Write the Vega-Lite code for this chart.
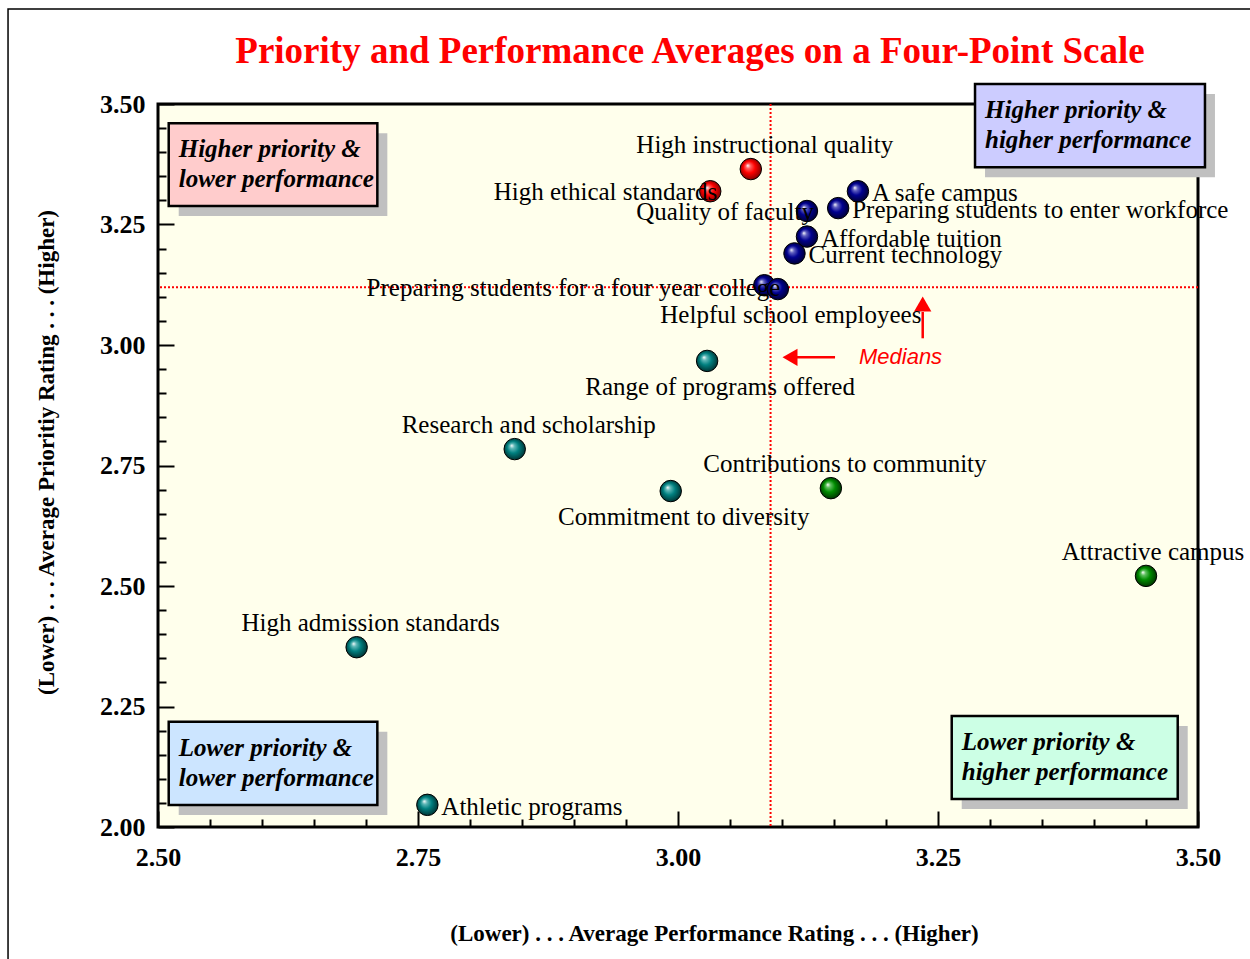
{
  "$schema": "https://vega.github.io/schema/vega-lite/v6.json",
  "width": 1040,
  "height": 723,
  "autosize": {"type": "none"},
  "padding": {"left": 158, "top": 104, "right": 52, "bottom": 132},
  "background": "white",
  "title": {
    "text": "Priority and Performance Averages on a Four-Point Scale",
    "font": "Liberation Serif",
    "fontSize": 37,
    "fontWeight": "bold",
    "color": "#FF0000",
    "anchor": "middle",
    "frame": "group",
    "baseline": "alphabetic",
    "offset": -92,
    "dx": 12
  },
  "config": {
    "view": {"fill": "#FFFFEC", "stroke": "black", "strokeWidth": 3},
    "font": "Liberation Serif"
  },
  "datasets": {
    "items": [
      {"item": "High instructional quality", "performance": 3.070, "priority": 3.365, "cluster": "A"},
      {"item": "High ethical standards", "performance": 3.031, "priority": 3.319, "cluster": "A"},
      {"item": "Quality of faculty", "performance": 3.124, "priority": 3.278, "cluster": "B"},
      {"item": "A safe campus", "performance": 3.173, "priority": 3.319, "cluster": "B"},
      {"item": "Preparing students to enter workforce", "performance": 3.154, "priority": 3.284, "cluster": "B"},
      {"item": "Affordable tuition", "performance": 3.124, "priority": 3.225, "cluster": "B"},
      {"item": "Current technology", "performance": 3.112, "priority": 3.190, "cluster": "B"},
      {"item": "Preparing students for a four year college", "performance": 3.083, "priority": 3.124, "cluster": "B"},
      {"item": "Helpful school employees", "performance": 3.096, "priority": 3.116, "cluster": "B"},
      {"item": "Range of programs offered", "performance": 3.028, "priority": 2.967, "cluster": "C"},
      {"item": "Research and scholarship", "performance": 2.843, "priority": 2.784, "cluster": "C"},
      {"item": "Commitment to diversity", "performance": 2.993, "priority": 2.697, "cluster": "C"},
      {"item": "Contributions to community", "performance": 3.147, "priority": 2.703, "cluster": "D"},
      {"item": "Attractive campus", "performance": 3.450, "priority": 2.521, "cluster": "D"},
      {"item": "High admission standards", "performance": 2.691, "priority": 2.373, "cluster": "C"},
      {"item": "Athletic programs", "performance": 2.759, "priority": 2.046, "cluster": "C"}
    ],
    "medians": [{"performance": 3.089, "priority": 3.120}],
    "quadrants": [
      {"quadrant": "HL", "label": "Higher priority &\nlower performance", "x1": 2.5103, "x2": 2.7109, "y1": 3.460, "y2": 3.2884},
      {"quadrant": "HH", "label": "Higher priority &\nhigher performance", "x1": 3.2856, "x2": 3.5067, "y1": 3.5415, "y2": 3.3687},
      {"quadrant": "LL", "label": "Lower priority &\nlower performance", "x1": 2.5103, "x2": 2.7109, "y1": 2.2185, "y2": 2.0456},
      {"quadrant": "LH", "label": "Lower priority &\nhigher performance", "x1": 3.2632, "x2": 3.4805, "y1": 2.2303, "y2": 2.0581}
    ],
    "arrows": [
      {"dir": "left", "x": 3.151, "x2": 3.114, "y": 2.9745, "y2": 2.9745},
      {"dir": "up", "x": 3.2353, "x2": 3.2353, "y": 3.0139, "y2": 3.0685}
    ],
    "heads": [
      {"dir": "left", "x": 3.1077, "y": 2.9745},
      {"dir": "up", "x": 3.2353, "y": 3.0851}
    ],
    "notes": [{"text": "Medians", "x": 3.174, "y": 2.9745}],
    "page": [{"left": 2.3558, "right": 3.58, "top": 3.697, "bottom": 1.70}]
  },
  "resolve": {"axis": {"x": "independent", "y": "independent"}},
  "layer": [
    {
      "data": {"name": "items"},
      "mark": {"type": "point", "opacity": 0},
      "encoding": {
        "x": {"field": "performance", "type": "quantitative", "scale": {"domain": [2.5, 3.5], "nice": false, "zero": false},
          "axis": {"orient": "bottom", "values": [2.55, 2.6, 2.65, 2.7, 2.8, 2.85, 2.9, 2.95, 3.05, 3.1, 3.15, 3.2, 3.3, 3.35, 3.4, 3.45], "labels": false, "domain": false, "grid": false, "tickSize": -8, "tickWidth": 2, "tickColor": "black", "title": null}},
        "y": {"field": "priority", "type": "quantitative", "scale": {"domain": [2, 3.5], "nice": false, "zero": false},
          "axis": {"orient": "left", "values": [2.05, 2.1, 2.15, 2.2, 2.3, 2.35, 2.4, 2.45, 2.55, 2.6, 2.65, 2.7, 2.8, 2.85, 2.9, 2.95, 3.05, 3.1, 3.15, 3.2, 3.3, 3.35, 3.4, 3.45], "labels": false, "domain": false, "grid": false, "tickSize": -8, "tickWidth": 2, "tickColor": "black", "title": null}}
      }
    },
    {
      "data": {"name": "items"},
      "mark": {"type": "point", "opacity": 0},
      "encoding": {
        "x": {"field": "performance", "type": "quantitative", "scale": {"domain": [2.5, 3.5], "nice": false, "zero": false},
          "axis": {"orient": "bottom", "values": [2.5, 2.75, 3.0, 3.25, 3.5], "format": ".2f", "domain": false, "grid": false, "tickSize": -16, "tickWidth": 2, "tickColor": "black",
            "labelFont": "Liberation Serif", "labelFontSize": 26, "labelFontWeight": "bold", "labelColor": "black", "labelPadding": 33, "labelFlush": false,
            "title": "(Lower) . . . Average Performance Rating . . . (Higher)", "titleFont": "Liberation Serif", "titleFontSize": 23, "titleFontWeight": "bold", "titleColor": "black",
            "titleX": 556, "titleY": 106, "titleBaseline": "middle", "titleAlign": "center", "titleAnchor": null}},
        "y": {"field": "priority", "type": "quantitative", "scale": {"domain": [2, 3.5], "nice": false, "zero": false},
          "axis": {"orient": "left", "values": [2.0, 2.25, 2.5, 2.75, 3.0, 3.25, 3.5], "format": ".2f", "domain": false, "grid": false, "tickSize": -16, "tickWidth": 2, "tickColor": "black",
            "labelFont": "Liberation Serif", "labelFontSize": 26, "labelFontWeight": "bold", "labelColor": "black", "labelPadding": 29, "labelFlush": false,
            "title": "(Lower) . . . Average Prioritiy Rating . . . (Higher)", "titleFont": "Liberation Serif", "titleFontSize": 23, "titleFontWeight": "bold", "titleColor": "black",
            "titleX": -112, "titleY": 348, "titleAngle": -90, "titleBaseline": "middle", "titleAlign": "center", "titleAnchor": null}}
      }
    },
    {
      "data": {"name": "quadrants"},
      "mark": {"type": "rect", "fill": "#C0C0C0", "xOffset": 10, "x2Offset": 10, "yOffset": 10, "y2Offset": 10},
      "encoding": {
        "x": {"field": "x1", "type": "quantitative", "scale": {"domain": [2.5, 3.5], "nice": false, "zero": false}, "axis": null},
        "x2": {"field": "x2"},
        "y": {"field": "y1", "type": "quantitative", "scale": {"domain": [2, 3.5], "nice": false, "zero": false}, "axis": null},
        "y2": {"field": "y2"}
      }
    },
    {
      "data": {"name": "quadrants"},
      "mark": {"type": "rect", "stroke": "black", "strokeWidth": 2.5, "opacity": 1},
      "encoding": {
        "x": {"field": "x1", "type": "quantitative", "scale": {"domain": [2.5, 3.5], "nice": false, "zero": false}, "axis": null},
        "x2": {"field": "x2"},
        "y": {"field": "y1", "type": "quantitative", "scale": {"domain": [2, 3.5], "nice": false, "zero": false}, "axis": null},
        "y2": {"field": "y2"},
        "fill": {"field": "quadrant", "type": "nominal", "scale": {"domain": ["HL", "HH", "LL", "LH"], "range": ["#FFCCCC", "#CCCCFF", "#CCE5FF", "#CCFFE5"]}, "legend": null}
      }
    },
    {
      "data": {"name": "quadrants"},
      "mark": {"type": "text", "align": "left", "baseline": "alphabetic", "dx": 10, "dy": 34, "lineBreak": "\n", "lineHeight": 30, "font": "Liberation Serif", "fontSize": 25, "fontWeight": "bold", "fontStyle": "italic", "color": "black"},
      "encoding": {
        "x": {"field": "x1", "type": "quantitative", "scale": {"domain": [2.5, 3.5], "nice": false, "zero": false}, "axis": null},
        "y": {"field": "y1", "type": "quantitative", "scale": {"domain": [2, 3.5], "nice": false, "zero": false}, "axis": null},
        "text": {"field": "label", "type": "nominal"}
      }
    },
    {
      "data": {"name": "medians"},
      "mark": {"type": "rule", "color": "#FF0000", "strokeWidth": 2, "strokeDash": [2, 2]},
      "encoding": {
        "x": {"field": "performance", "type": "quantitative", "scale": {"domain": [2.5, 3.5], "nice": false, "zero": false}, "axis": null}
      }
    },
    {
      "data": {"name": "medians"},
      "mark": {"type": "rule", "color": "#FF0000", "strokeWidth": 2, "strokeDash": [2, 2]},
      "encoding": {
        "y": {"field": "priority", "type": "quantitative", "scale": {"domain": [2, 3.5], "nice": false, "zero": false}, "axis": null}
      }
    },
    {
      "data": {"name": "arrows"},
      "mark": {"type": "rule", "color": "#FF0000", "strokeWidth": 2.5},
      "encoding": {
        "x": {"field": "x", "type": "quantitative", "scale": {"domain": [2.5, 3.5], "nice": false, "zero": false}, "axis": null},
        "x2": {"field": "x2"},
        "y": {"field": "y", "type": "quantitative", "scale": {"domain": [2, 3.5], "nice": false, "zero": false}, "axis": null},
        "y2": {"field": "y2"}
      }
    },
    {
      "data": {"name": "heads"},
      "mark": {"type": "point", "filled": true, "color": "#FF0000", "opacity": 1, "size": 300},
      "encoding": {
        "x": {"field": "x", "type": "quantitative", "scale": {"domain": [2.5, 3.5], "nice": false, "zero": false}, "axis": null},
        "y": {"field": "y", "type": "quantitative", "scale": {"domain": [2, 3.5], "nice": false, "zero": false}, "axis": null},
        "shape": {"field": "dir", "type": "nominal", "scale": {"domain": ["left", "up"], "range": ["triangle-left", "triangle-up"]}, "legend": null}
      }
    },
    {
      "data": {"name": "notes"},
      "mark": {"type": "text", "align": "left", "baseline": "middle", "font": "Liberation Sans", "fontSize": 22, "fontStyle": "italic", "color": "#FF0000"},
      "encoding": {
        "x": {"field": "x", "type": "quantitative", "scale": {"domain": [2.5, 3.5], "nice": false, "zero": false}, "axis": null},
        "y": {"field": "y", "type": "quantitative", "scale": {"domain": [2, 3.5], "nice": false, "zero": false}, "axis": null},
        "text": {"field": "text", "type": "nominal"}
      }
    },
    {
      "data": {"name": "items"},
      "transform": [{"filter": {"field": "cluster", "equal": "A"}}],
      "mark": {"type": "circle", "size": 460, "opacity": 1, "stroke": "black", "strokeWidth": 1,
        "fill": {"gradient": "radial", "x1": 0.35, "y1": 0.33, "r1": 0, "x2": 0.5, "y2": 0.5, "r2": 0.55,
          "stops": [{"offset": 0, "color": "#FFFFFF"}, {"offset": 0.2, "color": "#FF6060"}, {"offset": 0.5, "color": "#FF0000"}, {"offset": 1, "color": "#700000"}]}},
      "encoding": {
        "x": {"field": "performance", "type": "quantitative", "scale": {"domain": [2.5, 3.5], "nice": false, "zero": false}, "axis": null},
        "y": {"field": "priority", "type": "quantitative", "scale": {"domain": [2, 3.5], "nice": false, "zero": false}, "axis": null}
      }
    },
    {
      "data": {"name": "items"},
      "transform": [{"filter": {"field": "cluster", "equal": "B"}}],
      "mark": {"type": "circle", "size": 460, "opacity": 1, "stroke": "black", "strokeWidth": 1,
        "fill": {"gradient": "radial", "x1": 0.35, "y1": 0.33, "r1": 0, "x2": 0.5, "y2": 0.5, "r2": 0.55,
          "stops": [{"offset": 0, "color": "#FFFFFF"}, {"offset": 0.2, "color": "#6060C0"}, {"offset": 0.5, "color": "#000090"}, {"offset": 1, "color": "#000028"}]}},
      "encoding": {
        "x": {"field": "performance", "type": "quantitative", "scale": {"domain": [2.5, 3.5], "nice": false, "zero": false}, "axis": null},
        "y": {"field": "priority", "type": "quantitative", "scale": {"domain": [2, 3.5], "nice": false, "zero": false}, "axis": null}
      }
    },
    {
      "data": {"name": "items"},
      "transform": [{"filter": {"field": "cluster", "equal": "C"}}],
      "mark": {"type": "circle", "size": 460, "opacity": 1, "stroke": "black", "strokeWidth": 1,
        "fill": {"gradient": "radial", "x1": 0.35, "y1": 0.33, "r1": 0, "x2": 0.5, "y2": 0.5, "r2": 0.55,
          "stops": [{"offset": 0, "color": "#FFFFFF"}, {"offset": 0.2, "color": "#60B8B8"}, {"offset": 0.5, "color": "#008080"}, {"offset": 1, "color": "#002828"}]}},
      "encoding": {
        "x": {"field": "performance", "type": "quantitative", "scale": {"domain": [2.5, 3.5], "nice": false, "zero": false}, "axis": null},
        "y": {"field": "priority", "type": "quantitative", "scale": {"domain": [2, 3.5], "nice": false, "zero": false}, "axis": null}
      }
    },
    {
      "data": {"name": "items"},
      "transform": [{"filter": {"field": "cluster", "equal": "D"}}],
      "mark": {"type": "circle", "size": 460, "opacity": 1, "stroke": "black", "strokeWidth": 1,
        "fill": {"gradient": "radial", "x1": 0.35, "y1": 0.33, "r1": 0, "x2": 0.5, "y2": 0.5, "r2": 0.55,
          "stops": [{"offset": 0, "color": "#FFFFFF"}, {"offset": 0.2, "color": "#60C060"}, {"offset": 0.5, "color": "#008C00"}, {"offset": 1, "color": "#002800"}]}},
      "encoding": {
        "x": {"field": "performance", "type": "quantitative", "scale": {"domain": [2.5, 3.5], "nice": false, "zero": false}, "axis": null},
        "y": {"field": "priority", "type": "quantitative", "scale": {"domain": [2, 3.5], "nice": false, "zero": false}, "axis": null}
      }
    },
    {
      "data": {"name": "items"},
      "transform": [{"filter": {"field": "item", "oneOf": ["High instructional quality", "Research and scholarship", "Contributions to community", "High admission standards"]}}],
      "mark": {"type": "text", "align": "center", "baseline": "middle", "dx": 14, "dy": -24, "font": "Liberation Serif", "fontSize": 25, "color": "black"},
      "encoding": {
        "x": {"field": "performance", "type": "quantitative", "scale": {"domain": [2.5, 3.5], "nice": false, "zero": false}, "axis": null},
        "y": {"field": "priority", "type": "quantitative", "scale": {"domain": [2, 3.5], "nice": false, "zero": false}, "axis": null},
        "text": {"field": "item", "type": "nominal"}
      }
    },
    {
      "data": {"name": "items"},
      "transform": [{"filter": {"field": "item", "oneOf": ["Attractive campus"]}}],
      "mark": {"type": "text", "align": "center", "baseline": "middle", "dx": 7, "dy": -24, "font": "Liberation Serif", "fontSize": 25, "color": "black"},
      "encoding": {
        "x": {"field": "performance", "type": "quantitative", "scale": {"domain": [2.5, 3.5], "nice": false, "zero": false}, "axis": null},
        "y": {"field": "priority", "type": "quantitative", "scale": {"domain": [2, 3.5], "nice": false, "zero": false}, "axis": null},
        "text": {"field": "item", "type": "nominal"}
      }
    },
    {
      "data": {"name": "items"},
      "transform": [{"filter": {"field": "item", "oneOf": ["Helpful school employees", "Range of programs offered", "Commitment to diversity"]}}],
      "mark": {"type": "text", "align": "center", "baseline": "middle", "dx": 13, "dy": 26, "font": "Liberation Serif", "fontSize": 25, "color": "black"},
      "encoding": {
        "x": {"field": "performance", "type": "quantitative", "scale": {"domain": [2.5, 3.5], "nice": false, "zero": false}, "axis": null},
        "y": {"field": "priority", "type": "quantitative", "scale": {"domain": [2, 3.5], "nice": false, "zero": false}, "axis": null},
        "text": {"field": "item", "type": "nominal"}
      }
    },
    {
      "data": {"name": "items"},
      "transform": [{"filter": {"field": "item", "oneOf": ["A safe campus", "Preparing students to enter workforce", "Affordable tuition", "Current technology", "Athletic programs"]}}],
      "mark": {"type": "text", "align": "left", "baseline": "middle", "dx": 14, "dy": 2, "font": "Liberation Serif", "fontSize": 25, "color": "black"},
      "encoding": {
        "x": {"field": "performance", "type": "quantitative", "scale": {"domain": [2.5, 3.5], "nice": false, "zero": false}, "axis": null},
        "y": {"field": "priority", "type": "quantitative", "scale": {"domain": [2, 3.5], "nice": false, "zero": false}, "axis": null},
        "text": {"field": "item", "type": "nominal"}
      }
    },
    {
      "data": {"name": "items"},
      "transform": [{"filter": {"field": "item", "oneOf": ["High ethical standards", "Quality of faculty"]}}],
      "mark": {"type": "text", "align": "right", "baseline": "middle", "dx": 7, "dy": 1, "font": "Liberation Serif", "fontSize": 25, "color": "black"},
      "encoding": {
        "x": {"field": "performance", "type": "quantitative", "scale": {"domain": [2.5, 3.5], "nice": false, "zero": false}, "axis": null},
        "y": {"field": "priority", "type": "quantitative", "scale": {"domain": [2, 3.5], "nice": false, "zero": false}, "axis": null},
        "text": {"field": "item", "type": "nominal"}
      }
    },
    {
      "data": {"name": "items"},
      "transform": [{"filter": {"field": "item", "oneOf": ["Preparing students for a four year college"]}}],
      "mark": {"type": "text", "align": "right", "baseline": "middle", "dx": 16, "dy": 3, "font": "Liberation Serif", "fontSize": 25, "color": "black"},
      "encoding": {
        "x": {"field": "performance", "type": "quantitative", "scale": {"domain": [2.5, 3.5], "nice": false, "zero": false}, "axis": null},
        "y": {"field": "priority", "type": "quantitative", "scale": {"domain": [2, 3.5], "nice": false, "zero": false}, "axis": null},
        "text": {"field": "item", "type": "nominal"}
      }
    },
    {
      "data": {"name": "page"},
      "mark": {"type": "rect", "fill": "transparent", "stroke": "black", "strokeWidth": 1.5},
      "encoding": {
        "x": {"field": "left", "type": "quantitative", "scale": {"domain": [2.5, 3.5], "nice": false, "zero": false}, "axis": null},
        "x2": {"field": "right"},
        "y": {"field": "top", "type": "quantitative", "scale": {"domain": [2, 3.5], "nice": false, "zero": false}, "axis": null},
        "y2": {"field": "bottom"}
      }
    }
  ]
}
